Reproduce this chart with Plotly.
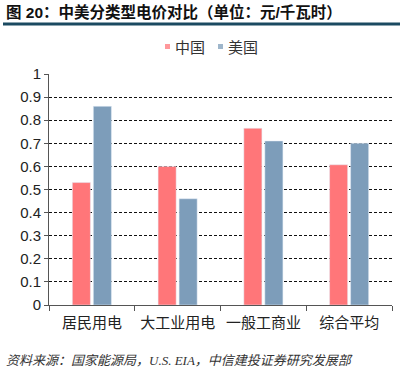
import plotly.graph_objects as go

categories = ["居民用电", "大工业用电", "一般工商业", "综合平均"]
china = [0.53, 0.60, 0.765, 0.607]
usa = [0.86, 0.46, 0.71, 0.70]
series_names = ["中国", "美国"]
series_colors = ["#FF7679", "#7D9DBA"]
yticks = [0, 0.1, 0.2, 0.3, 0.4, 0.5, 0.6, 0.7, 0.8, 0.9, 1]
ytick_text = ["0", "0.1", "0.2", "0.3", "0.4", "0.5", "0.6", "0.7", "0.8", "0.9", "1"]

W, H = 401, 372
L, R, T, B = 49, 9, 74, 67
pw, ph = W - L - R, H - T - B

def px(x):
    return (x - L) / pw

def py(y):
    return (H - B - y) / ph

font = "Liberation Sans, Noto Sans CJK SC, sans-serif"

fig = go.Figure()
fig.add_trace(go.Bar(x=categories, y=china, name=series_names[0], marker_color=series_colors[0]))
fig.add_trace(go.Bar(x=categories, y=usa, name=series_names[1], marker_color=series_colors[1]))

fig.update_layout(
    width=W, height=H,
    margin=dict(l=L, r=R, t=T, b=B),
    paper_bgcolor="white", plot_bgcolor="white",
    barmode="group", bargap=0.51, bargroupgap=0.14,
    font=dict(family=font, size=15, color="#222"),
    showlegend=False,
    xaxis=dict(showline=True, linecolor="#555", linewidth=1, ticks="outside", tickson="boundaries",
               ticklen=5, tickcolor="#555", tickfont=dict(size=15, color="#222"), showgrid=False,
               ticklabelstandoff=4),
    yaxis=dict(range=[0, 1], tickvals=yticks, ticktext=ytick_text, showline=True, linecolor="#555",
               linewidth=1, ticks="outside", ticklen=4, tickcolor="#555", showgrid=True,
               gridcolor="#111", griddash="3px,2px", gridwidth=1, zeroline=False,
               tickfont=dict(size=15, color="#222")),
)

# legend (drawn manually to match the compact reference layout)
legend_items = [(series_names[0], series_colors[0], 165, 173), (series_names[1], series_colors[1], 218, 226)]
for name, color, mx, tx in legend_items:
    fig.add_shape(type="rect", xref="paper", yref="paper", x0=px(mx), x1=px(mx + 5),
                  y0=py(49), y1=py(44), fillcolor=color, line=dict(width=0), opacity=0.75)
    fig.add_annotation(text=name, xref="paper", yref="paper", x=px(tx), y=py(47),
                       xanchor="left", yanchor="middle", showarrow=False,
                       font=dict(size=15, color="#333", family=font))

fig.add_shape(type="line", xref="paper", yref="paper", x0=px(3), x1=px(400), y0=py(24), y1=py(24),
              line=dict(color="#1B4A61", width=3))
fig.add_annotation(text="<b>图 20：中美分类型电价对比（单位：元/千瓦时）</b>", xref="paper", yref="paper",
                   x=px(4), y=py(12), xanchor="left", yanchor="middle", showarrow=False,
                   font=dict(size=15.5, color="#111", family=font))
fig.add_annotation(text="<i>资料来源：国家能源局，U.S. EIA，中信建投证券研究发展部</i>", xref="paper", yref="paper",
                   x=px(4), y=py(360), xanchor="left", yanchor="middle", showarrow=False,
                   font=dict(size=13, color="#333", family="Liberation Serif, Noto Sans CJK SC, serif"))

fig.write_html("out.html", config={"displayModeBar": False},
               post_script="document.body.style.margin='0';document.body.style.overflow='hidden';")
